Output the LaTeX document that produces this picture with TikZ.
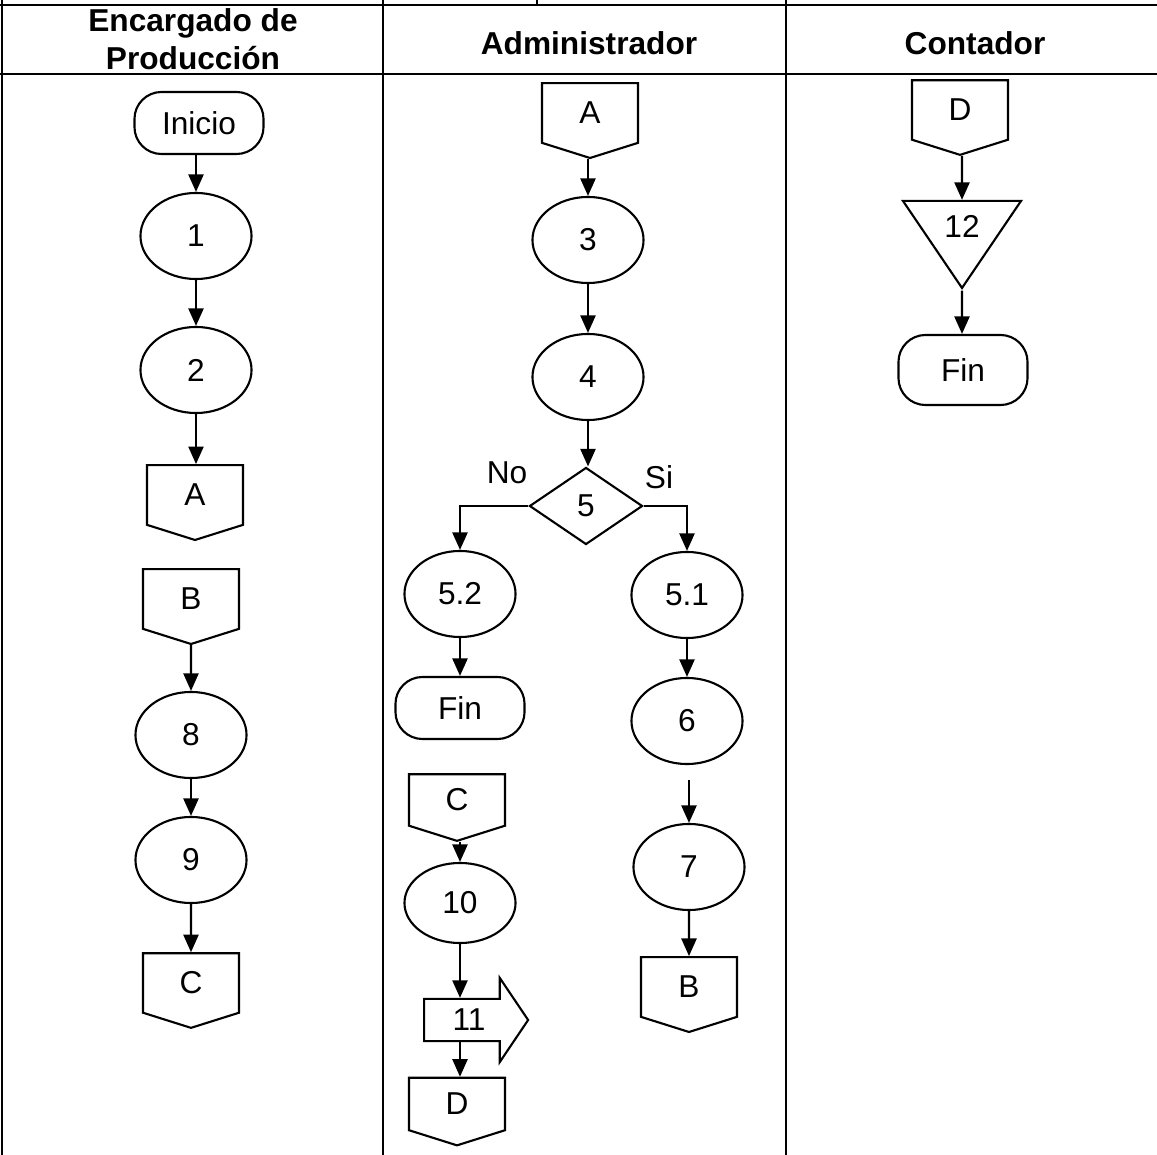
\documentclass[tikz,border=0pt]{standalone}
\usepackage{fontspec}
\setmainfont{Liberation Sans}
\usetikzlibrary{arrows.meta,shapes.geometric,shapes.symbols,shapes.arrows,positioning,calc}

\begin{document}
\begin{tikzpicture}[x=0.01cm,y=-0.01cm,line width=0.6pt,
  font=\fontsize{9}{10.8}\selectfont,
  proc/.style={draw,ellipse,inner sep=0pt,minimum width=1.11cm,minimum height=0.86cm},
  term/.style={draw,rectangle,rounded corners=0.27cm,minimum width=1.29cm,minimum height=0.62cm},
  conn/.style={draw,signal,signal to=south,signal from=nowhere,signal pointer angle=145,inner sep=0pt,minimum width=0.96cm,minimum height=0.63cm},
  flow/.style={-{Triangle[width=4.3pt,length=5pt]}},
  lane/.style={line width=0.7pt},
  head/.style={font=\fontsize{9}{10.8}\selectfont\bfseries,align=center}]
\useasboundingbox (0,0) rectangle (1157,1155);
\draw[lane] (0,5) -- (1157,5);
\draw[lane] (0,74) -- (1157,74);
\draw[lane] (2,0) -- (2,1155);
\draw[lane] (383,0) -- (383,1155);
\draw[lane] (786,0) -- (786,1155);
\draw[lane] (537,0) -- (537,5);
\node[head] (h1) at (193,39) {Encargado de\\Producción};
\node[head] (h2) at (589,43) {Administrador};
\node[head] (h3) at (975,43) {Contador};

\node[term] (ini) at (199,123) {Inicio};
\node[proc] (p1) at (196,236) {1};
\node[proc] (p2) at (196,370) {2};
\node[conn] (ca) at (195,495) {A};
\node[conn] (cb) at (191,599) {B};
\node[proc] (p8) at (191,735) {8};
\node[proc] (p9) at (191,860) {9};
\node[conn] (cc) at (191,983) {C};

\node[conn] (ma) at (590,113) {A};
\node[proc] (p3) at (588,240) {3};
\node[proc] (p4) at (588,377) {4};
\node[draw,diamond,inner sep=0pt,minimum width=1.13cm,minimum height=0.77cm] (d5) at (586,506) {5};
\node (no) at (507,473) {No};
\node (si) at (659,477) {Si};
\node[proc] (p52) at (460,594) {5.2};
\node[proc] (p51) at (687,595) {5.1};
\node[term] (fin1) at (460,708) {Fin};
\node[proc] (p6) at (687,721) {6};
\node[proc] (p7) at (689,867) {7};
\node[conn] (mb) at (689,987) {B};
\node[conn,minimum height=0.55cm] (mc) at (457,800) {C};
\node[proc,minimum height=0.8cm] (p10) at (460,903) {10};
\node[draw,single arrow,single arrow head extend=0.21cm,single arrow tip angle=112,inner sep=2.6pt,minimum height=1.04cm] (s11) at (469,1020) {11};
\node[conn,minimum height=0.56cm] (md) at (457,1104) {D};

\node[conn] (rd) at (960,110) {D};
\node[draw,isosceles triangle,shape border rotate=270,isosceles triangle stretches,inner sep=0pt,minimum width=1.18cm,minimum height=0.87cm] (t12) at (962,226) {12};
\node[term,minimum height=0.7cm] (fin2) at (963,370) {Fin};

\draw[flow] (ini.south -| p1) -- (p1);
\draw[flow] (p1) -- (p2);
\draw[flow] (p2) -- (p2 |- ca.north);
\draw[flow] (cb) -- (p8);
\draw[flow] (p8) -- (p9);
\draw[flow] (p9) -- (cc);
\draw[flow] (ma.south -| p3) -- (p3);
\draw[flow] (p3) -- (p4);
\draw[flow] (p4) -- (p4 |- d5.north);
\draw[flow] (d5.west) -| (p52);
\draw[flow] (d5.east) -| (p51);
\draw[flow] (p52) -- (fin1);
\draw[flow] (p51) -- (p6);
\draw[flow,shorten <=0.15cm] (p6.south -| p7) -- (p7);
\draw[flow] (p7) -- (mb);
\draw[flow] (mc.south -| p10) -- (p10);
\draw[flow] (p10) -- (p10 |- s11.north);
\draw[flow] (s11.south -| p10) -- (p10 |- md.north);
\draw[flow] (rd.south -| t12) -- (t12);
\draw[flow] (t12) -- (t12 |- fin2.north);
\end{tikzpicture}
\end{document}
